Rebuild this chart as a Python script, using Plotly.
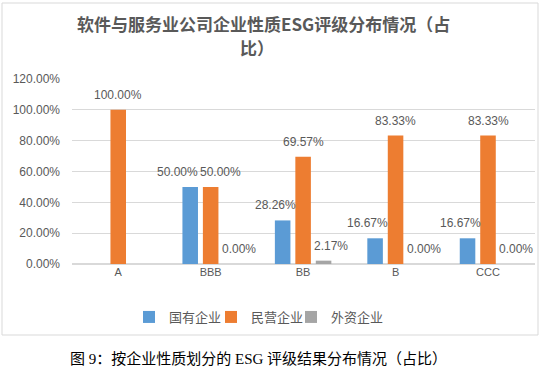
import plotly.graph_objects as go

categories = ["A", "BBB", "BB", "B", "CCC"]
state_owned = [None, 0.50, 0.2826, 0.1667, 0.1667]
private = [1.00, 0.50, 0.6957, 0.8333, 0.8333]
foreign = [None, 0.00, 0.0217, 0.00, 0.00]
series_names = ["国有企业", "民营企业", "外资企业"]
colors = ["#5B9BD5", "#ED7D31", "#A5A5A5"]

W, H = 554, 378
L, R, T, B = 72, 19, 79, 114
pw, ph = W - L - R, H - T - B

def px(x):
    return (x - L) / pw

def py(y):
    return (H - B - y) / ph

FONT = "Liberation Sans, Noto Sans CJK SC, sans-serif"
CJK = "Noto Sans CJK SC, sans-serif"
TXT = "#595959"

# label offsets (px) relative to each bar centre, as in the reference layout
slot = 20.5
series_shift = [-slot - 7.5, 0, slot + 7.5]
extra_nudge = {(0, "BBB"): -5, (1, "BBB"): 9.5}
legend_text_left = [171, 253, 333]

fig = go.Figure()
annotations = []
all_vals = [state_owned, private, foreign]
for i, (name, vals, c) in enumerate(zip(series_names, all_vals, colors)):
    lg = "legend" if i == 0 else f"legend{i+1}"
    fig.add_trace(go.Bar(
        x=categories, y=vals, name=name, marker_color=c, marker_line_width=0,
        legend=lg, hoverinfo="x+y",
    ))
    for cat, v in zip(categories, vals):
        if v is None:
            continue
        annotations.append(dict(
            x=cat, y=v, xref="x", yref="y", text=f"{v:.2%}", showarrow=False,
            xanchor="center", yanchor="middle",
            xshift=series_shift[i] + extra_nudge.get((i, cat), 0), yshift=15,
            font=dict(family=FONT, size=12, color=TXT),
        ))

annotations += [
    dict(text="<b>软件与服务业公司企业性质ESG评级分布情况（占</b>", xref="paper", yref="paper",
         x=px(263), y=py(24), xanchor="center", yanchor="middle", showarrow=False,
         font=dict(family=CJK, size=17, color=TXT)),
    dict(text="<b>比）</b>", xref="paper", yref="paper",
         x=px(257), y=py(48), xanchor="center", yanchor="middle", showarrow=False,
         font=dict(family=CJK, size=17, color=TXT)),
    dict(text="图 9：按企业性质划分的 ESG 评级结果分布情况（占比）", xref="paper", yref="paper",
         x=px(258), y=py(358), xanchor="center", yanchor="middle", showarrow=False,
         font=dict(family="Liberation Serif, Noto Sans CJK SC, serif", size=15, color="#000000")),
]

leg_common = dict(orientation="h", xref="container", yref="container",
                  yanchor="middle", xanchor="left", y=1 - 317 / H,
                  font=dict(family=CJK, size=13, color=TXT), itemwidth=30,
                  bgcolor="rgba(0,0,0,0)")

layout_legends = {}
for i in range(3):
    key = "legend" if i == 0 else f"legend{i+1}"
    layout_legends[key] = dict(leg_common, x=(legend_text_left[i] - 42) / W)

fig.update_layout(
    width=W, height=H,
    margin=dict(l=L, r=R, t=T, b=B, autoexpand=False),
    paper_bgcolor="white", plot_bgcolor="white",
    barmode="group", bargap=0.336, bargroupgap=0.24,
    showlegend=True,
    xaxis=dict(showgrid=False, showline=False, ticks="", automargin=False,
               tickfont=dict(family=FONT, size=11, color=TXT)),
    yaxis=dict(range=[0, 1.2], dtick=0.2, tickformat=".2%", showgrid=True,
               gridcolor="#D9D9D9", gridwidth=1, zeroline=True, zerolinecolor="#D9D9D9",
               showline=False, ticks="", automargin=False, ticklabelstandoff=11,
               tickfont=dict(family=FONT, size=12, color=TXT)),
    shapes=[dict(type="rect", xref="paper", yref="paper",
                 x0=px(2), x1=px(538), y0=py(335), y1=py(3),
                 line=dict(color="#D9D9D9", width=1), fillcolor="rgba(0,0,0,0)")],
    annotations=annotations,
    **layout_legends,
)

fig.write_html("out.html", config={"displayModeBar": False},
               post_script="document.body.style.margin='0px';")
